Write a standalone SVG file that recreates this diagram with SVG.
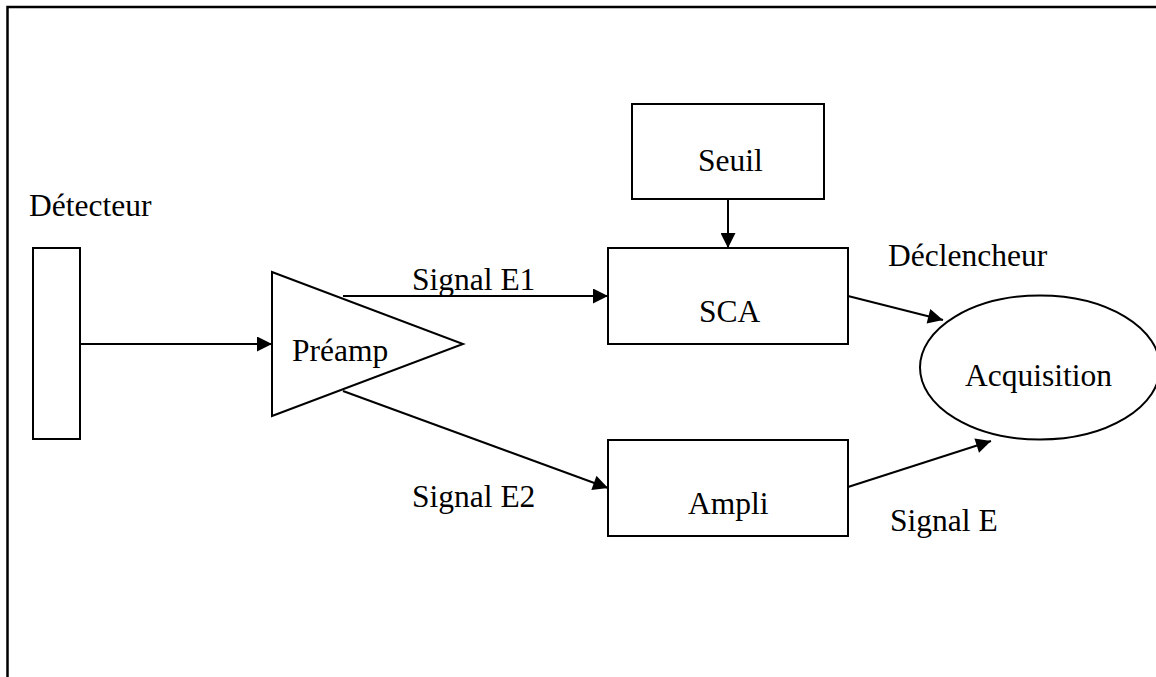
<svg xmlns="http://www.w3.org/2000/svg" width="1156" height="677" viewBox="0 0 1156 677">
<style>
.s{fill:#fff;stroke:#000;stroke-width:2}
.t{font-family:"Liberation Serif","Times New Roman",serif;font-size:31.5px;fill:#000}
.c{stroke:#000;stroke-width:2;fill:none}
</style>
<defs>
<marker id="a" viewBox="0 0 10 10" refX="10" refY="5" markerWidth="16" markerHeight="15" markerUnits="userSpaceOnUse" orient="auto">
<path d="M0,0L10,5L0,10z" fill="#000"/>
</marker>
</defs>
<rect width="1156" height="677" fill="#fff"/>
<path d="M7.5,677V7H1156" fill="none" stroke="#000" stroke-width="2.5"/>
<g id="detecteur">
<rect class="s" x="33" y="248" width="47" height="191"/>
<text class="t" x="29" y="216">Détecteur</text>
</g>
<g id="preamp">
<polygon class="s" points="272,272 272,416 463,344"/>
<text class="t" x="292" y="361">Préamp</text>
</g>
<g id="seuil">
<rect class="s" x="632" y="104" width="192" height="95"/>
<text class="t" x="698" y="171">Seuil</text>
</g>
<g id="sca">
<rect class="s" x="608" y="248" width="240" height="96"/>
<text class="t" x="699" y="322">SCA</text>
</g>
<g id="ampli">
<rect class="s" x="608" y="440" width="240" height="96"/>
<text class="t" x="688" y="514">Ampli</text>
</g>
<g id="acquisition">
<ellipse class="s" cx="1040" cy="367.5" rx="120" ry="72"/>
<text class="t" x="965" y="386">Acquisition</text>
</g>
<g id="connectors">
<line class="c" x1="80" y1="344" x2="272" y2="344" marker-end="url(#a)"/>
<line class="c" x1="343" y1="296" x2="608" y2="296" marker-end="url(#a)"/>
<line class="c" x1="343" y1="391" x2="608" y2="488" marker-end="url(#a)"/>
<line class="c" x1="728" y1="199" x2="728" y2="248" marker-end="url(#a)"/>
<line class="c" x1="848" y1="296" x2="943" y2="320" marker-end="url(#a)"/>
<line class="c" x1="848" y1="487" x2="991" y2="441" marker-end="url(#a)"/>
</g>
<g id="labels">
<text class="t" x="412" y="290">Signal E1</text>
<text class="t" x="412" y="507">Signal E2</text>
<text class="t" x="888" y="266">Déclencheur</text>
<text class="t" x="890" y="531">Signal E</text>
</g>
</svg>
